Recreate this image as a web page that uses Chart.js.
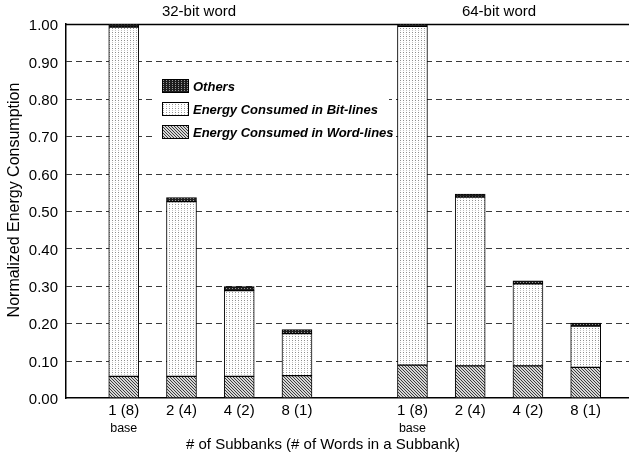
<!DOCTYPE html>
<html>
<head>
<meta charset="utf-8">
<script src="https://cdn.jsdelivr.net/npm/chart.js@4.4.1/dist/chart.umd.min.js"></script>
<style>
  html, body { margin: 0; padding: 0; background: #fff; }
  #wrap { width: 629px; height: 455px; }
</style>
</head>
<body>
<div id="wrap"><canvas id="chart" width="629" height="455"></canvas></div>
<script>
// Subbank configurations, one group per word size
const subbanks = ['1 (8)', '2 (4)', '4 (2)', '8 (1)'];
const baseNote = 'base';
const wordSizes = ['32-bit word', '64-bit word'];
const yTicks = [0, 0.1, 0.2, 0.3, 0.4, 0.5, 0.6, 0.7, 0.8, 0.9, 1.0];

// Normalized energy components (32-bit word)
const wordLines32 = [0.058, 0.058, 0.058, 0.060];
const bitLines32  = [0.934, 0.467, 0.229, 0.112];
const others32    = [0.008, 0.011, 0.011, 0.011];

// Normalized energy components (64-bit word)
const wordLines64 = [0.088, 0.086, 0.086, 0.082];
const bitLines64  = [0.906, 0.451, 0.219, 0.110];
const others64    = [0.006, 0.008, 0.008, 0.008];

const seriesNames = ['Energy Consumed in Word-lines', 'Energy Consumed in Bit-lines', 'Others'];

const FONT = '"Liberation Sans", Arial, Helvetica, sans-serif';

// Each group takes one slot per configuration plus an empty slot between groups
const slotOf = (g, i) => g * (subbanks.length + 1) + i + 1;

function series(v32, v64) {
  const pts = [];
  [v32, v64].forEach((arr, g) => arr.forEach((y, i) => pts.push({ x: slotOf(g, i), y })));
  return pts;
}

// Fill patterns
function makePattern(w, h, bg, dots) {
  const c = document.createElement('canvas');
  c.width = w; c.height = h;
  const g = c.getContext('2d');
  g.fillStyle = bg; g.fillRect(0, 0, w, h);
  dots.forEach(([x, y, col]) => { g.fillStyle = col; g.fillRect(x, y, 1, 1); });
  return g.createPattern(c, 'repeat');
}
const pctx = document.getElementById('chart').getContext('2d');
const hatchDots = [];
for (let y = 0; y < 3; y++) for (let x = 0; x < 3; x++) if ((x - y + 3) % 3 === 0) hatchDots.push([x, y, '#3c3c3c']);
const hatch = makePattern(3, 3, '#d6d6d6', hatchDots);
const dotted = makePattern(3, 4, '#ffffff', [[1, 0, '#8e8e8e'], [1, 2, '#c4c4c4']]);
const dark = makePattern(3, 2, '#1e1e1e', [[1, 0, '#9a9a9a']]);

const tickLabelFor = {};
wordSizes.forEach((_, g) => subbanks.forEach((s, i) => { tickLabelFor[slotOf(g, i)] = s; }));

// Dashed reference lines, solid top frame
const gridPlugin = {
  id: 'dashedGrid',
  beforeDatasetsDraw(chart) {
    const { ctx, chartArea: a, scales: { y } } = chart;
    ctx.save();
    yTicks.forEach(v => {
      if (v === 0) return;
      const py = Math.round(y.getPixelForValue(v)) + 0.5;
      ctx.setLineDash(v === 1 ? [] : [6, 4]);
      ctx.strokeStyle = v === 1 ? '#000' : '#3a3a3a';
      ctx.lineWidth = v === 1 ? 1.4 : 1;
      ctx.beginPath();
      ctx.moveTo(a.left, py);
      ctx.lineTo(a.right, py);
      ctx.stroke();
    });
    ctx.restore();
  }
};

// Legend box, group titles, axis titles, "base" notes
const annotatePlugin = {
  id: 'annotate',
  afterDatasetsDraw(chart) {
    const { ctx, scales: { x } } = chart;
    ctx.save();
    // legend
    ctx.fillStyle = '#fff';
    ctx.fillRect(156, 77, 233, 62);
    const rows = [chart.data.datasets[2], chart.data.datasets[1], chart.data.datasets[0]];
    rows.forEach((ds, k) => {
      const cy = 86 + k * 23;
      ctx.fillStyle = ds.backgroundColor;
      ctx.fillRect(162, cy - 7, 27, 14);
      ctx.strokeStyle = '#000';
      ctx.lineWidth = 1;
      ctx.strokeRect(162.5, cy - 6.5, 26, 13);
      ctx.fillStyle = '#000';
      ctx.font = 'italic bold 13px ' + FONT;
      ctx.textAlign = 'left';
      ctx.textBaseline = 'middle';
      ctx.fillText(ds.label, 193, cy + 1);
    });
    // group titles
    ctx.font = '15px ' + FONT;
    ctx.textAlign = 'center';
    ctx.textBaseline = 'middle';
    ctx.fillText(wordSizes[0], 199, 12);
    ctx.fillText(wordSizes[1], 499, 12);
    // base notes under first configuration of each group
    ctx.font = '12.5px ' + FONT;
    wordSizes.forEach((_, g) => ctx.fillText(baseNote, x.getPixelForValue(slotOf(g, 0)), 429));
    // x axis title
    ctx.font = '15px ' + FONT;
    ctx.fillText('# of Subbanks (# of Words in a Subbank)', 323, 445);
    // y axis title
    ctx.translate(15, 200);
    ctx.rotate(-Math.PI / 2);
    ctx.font = '16px ' + FONT;
    ctx.fillText('Normalized Energy Consumption', 0, 0);
    ctx.restore();
  }
};

const common = { barThickness: 30, borderColor: '#000', borderWidth: 1, borderSkipped: false };

new Chart(pctx, {
  type: 'bar',
  data: {
    datasets: [
      { label: seriesNames[0], data: series(wordLines32, wordLines64), backgroundColor: hatch, ...common },
      { label: seriesNames[1], data: series(bitLines32, bitLines64), backgroundColor: dotted, ...common },
      { label: seriesNames[2], data: series(others32, others64), backgroundColor: dark, ...common }
    ]
  },
  options: {
    responsive: false,
    animation: false,
    layout: { padding: { top: 24, left: 0, right: 0, bottom: 0 } },
    plugins: { legend: { display: false }, tooltip: { enabled: false } },
    scales: {
      x: {
        type: 'linear',
        stacked: true,
        offset: false,
        min: 0,
        max: 9.75,
        grid: { display: false, drawTicks: false },
        border: { display: true, color: '#000', width: 1.5 },
        afterBuildTicks: s => { s.ticks = Object.keys(tickLabelFor).map(v => ({ value: +v })); },
        afterFit: s => { s.height = 57; },
        ticks: {
          autoSkip: false,
          maxRotation: 0,
          padding: 4,
          color: '#000',
          font: { family: FONT, size: 15 },
          callback: v => tickLabelFor[v] || ''
        }
      },
      y: {
        stacked: true,
        min: 0,
        max: 1,
        grid: { display: false, drawTicks: false },
        border: { display: true, color: '#000', width: 1.5 },
        afterBuildTicks: s => { s.ticks = yTicks.map(v => ({ value: v })); },
        afterFit: s => { s.width = 66; },
        ticks: {
          padding: 8,
          labelOffset: 2,
          color: '#000',
          font: { family: FONT, size: 15 },
          callback: v => v.toFixed(2)
        }
      }
    }
  },
  plugins: [gridPlugin, annotatePlugin]
});
</script>
</body>
</html>
